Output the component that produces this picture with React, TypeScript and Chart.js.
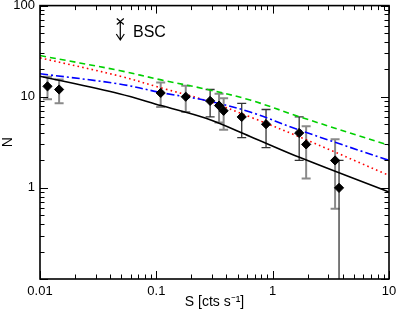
import React, { useEffect, useRef } from 'react';
import { Chart, registerables } from 'chart.js';

Chart.register(...registerables);

// ---- data ----
const pointS = [0.0116, 0.0146, 0.109, 0.179, 0.29, 0.346, 0.379, 0.542, 0.877, 1.69, 1.94, 3.44, 3.72];
const pointN = [13, 12, 11, 10, 9, 8, 7, 6, 5, 4, 3, 2, 1];
const errLow = [9.4, 8.5, 7.7, 6.8, 6.0, 5.2, 4.35, 3.55, 2.76, 2.0, 1.27, 0.59, 0];
const errHigh = [16.6, 15.5, 14.3, 13.2, 12.0, 10.8, 9.65, 8.45, 7.24, 6.0, 4.73, 3.41, 2.0];
const errShade = ['gray', 'gray', 'gray', 'gray', 'dark', 'gray', 'gray', 'dark', 'dark', 'dark', 'gray', 'gray', 'dark'];

const curveS = [0.01, 0.048, 0.11, 0.267, 0.64, 1.72, 10];
const greenN = [28.3, 19.4, 15.3, 12.1, 9.2, 6.0, 2.93];
const redN = [26.7, 16.9, 12.5, 9.1, 6.0, 3.6, 1.37];
const blueN = [17.9, 13.8, 11.1, 9.1, 6.8, 4.28, 2.0];
const blackN = [16.8, 10.8, 8.0, 5.8, 3.67, 2.15, 0.9];

const bscS = [0.049];
const bscN = [66.8];
const bscLimitN = [41.9];
const bscLabel = 'BSC';
const bscLabelS = [0.063];
const bscLabelN = [50.6];

const xTickValues = [0.01, 0.1, 1, 10];
const xTickLabels = ['0.01', '0.1', '1', '10'];
const yTickValues = [1, 10, 100];
const yTickLabels = ['1', '10', '100'];

const xTitle = 'S [cts s\u207B\u00B9]';
const yTitle = 'N';

const FONT = "'Liberation Sans', Arial, Helvetica, sans-serif";

const labelFor = (vals: number[], labels: string[]) => (v: any) => {
  const n = Number(v);
  const i = vals.findIndex((t) => Math.abs(Math.log10(t) - Math.log10(n)) < 1e-6);
  return i >= 0 ? labels[i] : '';
};

const decadeTicks = (min: number, max: number) => {
  const out: { v: number; major: boolean }[] = [];
  const e0 = Math.floor(Math.log10(min) + 1e-9);
  const e1 = Math.ceil(Math.log10(max) - 1e-9);
  for (let e = e0; e <= e1; e++) {
    for (let k = 1; k <= 9; k++) {
      const v = k * Math.pow(10, e);
      if (v >= min * 0.9999 && v <= max * 1.0001) out.push({ v, major: k === 1 });
    }
  }
  return out;
};

const overlayPlugin = {
  id: 'overlay',
  beforeDatasetsDraw(chart: any) {
    const { ctx, chartArea: a, scales } = chart;
    const xs = scales.x;
    const ys = scales.y;
    ctx.save();
    ctx.beginPath();
    ctx.rect(a.left, a.top, a.right - a.left, a.bottom - a.top);
    ctx.clip();
    pointS.forEach((s, i) => {
      const x = xs.getPixelForValue(s);
      const yHi = ys.getPixelForValue(errHigh[i]);
      const lowClipped = errLow[i] <= ys.min;
      const yLo = lowClipped ? a.bottom : ys.getPixelForValue(errLow[i]);
      const dark = errShade[i] === 'dark';
      ctx.strokeStyle = dark ? '#333333' : '#8a8a8a';
      ctx.lineWidth = dark ? 1.3 : 2;
      ctx.beginPath();
      ctx.moveTo(x, yHi);
      ctx.lineTo(x, yLo);
      ctx.moveTo(x - 4.5, yHi);
      ctx.lineTo(x + 4.5, yHi);
      if (!lowClipped) {
        ctx.moveTo(x - 4.5, yLo);
        ctx.lineTo(x + 4.5, yLo);
      }
      ctx.stroke();
    });
    ctx.restore();
  },
  afterDatasetsDraw(chart: any) {
    const { ctx, chartArea: a, scales } = chart;
    const xs = scales.x;
    const ys = scales.y;
    ctx.save();
    ctx.strokeStyle = '#000';
    ctx.lineWidth = 1;
    ctx.beginPath();
    decadeTicks(xs.min, xs.max).forEach(({ v, major }) => {
      const x = Math.round(xs.getPixelForValue(v)) + 0.5;
      const len = major ? 8 : 4.5;
      ctx.moveTo(x, a.bottom);
      ctx.lineTo(x, a.bottom - len);
      ctx.moveTo(x, a.top);
      ctx.lineTo(x, a.top + len);
    });
    decadeTicks(ys.min, ys.max).forEach(({ v, major }) => {
      const y = Math.round(ys.getPixelForValue(v)) + 0.5;
      const len = major ? 8 : 4.5;
      ctx.moveTo(a.left, y);
      ctx.lineTo(a.left + len, y);
      ctx.moveTo(a.right, y);
      ctx.lineTo(a.right - len, y);
    });
    ctx.stroke();
    ctx.lineWidth = 1.6;
    ctx.strokeRect(a.left, a.top, a.right - a.left, a.bottom - a.top);

    const bx = xs.getPixelForValue(bscS[0]);
    const byTop = ys.getPixelForValue(bscN[0]);
    const byTip = ys.getPixelForValue(bscLimitN[0]);
    ctx.lineWidth = 1.2;
    ctx.beginPath();
    ctx.moveTo(bx - 3.5, byTop - 3);
    ctx.lineTo(bx + 3.5, byTop + 3);
    ctx.moveTo(bx + 3.5, byTop - 3);
    ctx.lineTo(bx - 3.5, byTop + 3);
    ctx.moveTo(bx, byTop);
    ctx.lineTo(bx, byTip);
    ctx.moveTo(bx - 4, byTip - 6);
    ctx.lineTo(bx, byTip);
    ctx.lineTo(bx + 4, byTip - 6);
    ctx.stroke();
    ctx.fillStyle = '#000';
    ctx.font = `16px ${FONT}`;
    ctx.textBaseline = 'middle';
    ctx.textAlign = 'left';
    ctx.fillText(bscLabel, xs.getPixelForValue(bscLabelS[0]), ys.getPixelForValue(bscLabelN[0]));
    ctx.restore();
  },
};

const curve = (ys: number[], color: string, dash: number[]) => ({
  type: 'line' as const,
  data: curveS.map((s, i) => ({ x: s, y: ys[i] })),
  borderColor: color,
  borderWidth: 1.6,
  borderDash: dash,
  pointRadius: 0,
  fill: false,
  tension: 0.35,
});

export default function App() {
  const ref = useRef<HTMLCanvasElement>(null);
  useEffect(() => {
    document.body.style.margin = '0';
    Chart.defaults.font.family = FONT;
    const chart = new Chart(ref.current as HTMLCanvasElement, {
      type: 'line',
      data: {
        datasets: [
          {
            type: 'line',
            data: pointS.map((s, i) => ({ x: s, y: pointN[i] })),
            showLine: false,
            pointStyle: 'rectRot',
            pointRadius: 4.6,
            pointBackgroundColor: '#000',
            pointBorderColor: '#000',
            pointBorderWidth: 1,
          } as any,
          curve(blackN, '#000000', []),
          curve(blueN, '#0000ff', [8, 3, 2, 3]),
          curve(redN, '#ff0000', [1.6, 3.2]),
          curve(greenN, '#00d000', [6, 4]),
        ],
      },
      options: {
        responsive: false,
        animation: false,
        events: [],
        layout: { padding: { left: 0, right: 10, top: 5, bottom: 0 } },
        plugins: { legend: { display: false }, tooltip: { enabled: false } },
        scales: {
          x: {
            type: 'logarithmic',
            min: 0.01,
            max: 10,
            grid: { display: false, drawTicks: false },
            border: { display: false },
            ticks: {
              autoSkip: false,
              maxRotation: 0,
              padding: 5,
              color: '#000',
              font: { size: 13, family: FONT },
              callback: labelFor(xTickValues, xTickLabels),
            },
            title: {
              display: true,
              text: xTitle,
              color: '#000',
              font: { size: 14, family: FONT },
              padding: { top: 0, bottom: 5 },
            },
            afterFit: (s: any) => {
              s.height = 37;
              s.paddingLeft = 0;
              s.paddingRight = 0;
            },
          },
          y: {
            type: 'logarithmic',
            min: 0.1,
            max: 100,
            grid: { display: false, drawTicks: false },
            border: { display: false },
            ticks: {
              autoSkip: false,
              padding: 5,
              color: '#000',
              font: { size: 13, family: FONT },
              callback: labelFor(yTickValues, yTickLabels),
            },
            title: {
              display: true,
              text: yTitle,
              color: '#000',
              font: { size: 14, family: FONT },
              padding: { top: 0, bottom: 0 },
            },
            afterFit: (s: any) => {
              s.width = 40;
              s.paddingTop = 0;
              s.paddingBottom = 0;
            },
          },
        } as any,
      },
      plugins: [overlayPlugin],
    });
    return () => chart.destroy();
  }, []);
  return (
    <div style={{ width: 399, height: 316 }}>
      <canvas ref={ref} width={399} height={316} style={{ display: 'block' }} />
    </div>
  );
}
